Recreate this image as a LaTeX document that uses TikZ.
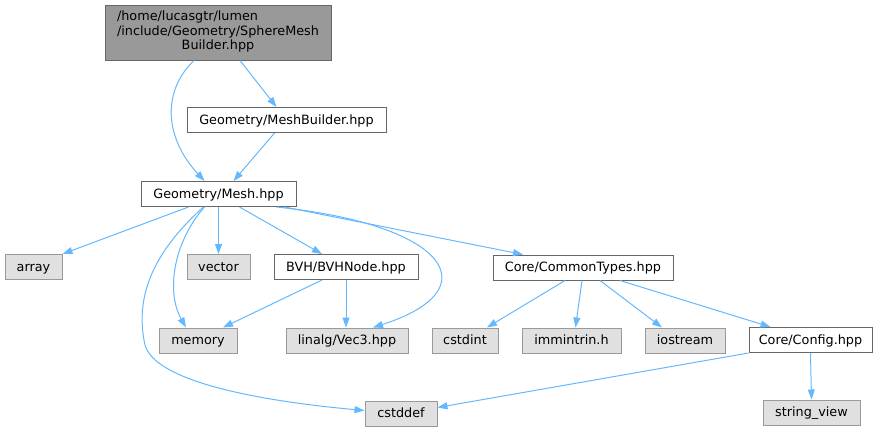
\documentclass[tikz,border=0pt]{standalone}
\usepackage{fontspec}
\setmainfont{DejaVu Sans}
\usepackage{tikz}
\usepackage{xcolor}
\usetikzlibrary{arrows.meta}
\definecolor{EdgeBlue}{HTML}{63B8FF}
\definecolor{SysFill}{HTML}{E0E0E0}
\definecolor{SysLine}{HTML}{999999}
\definecolor{HdrLine}{HTML}{666666}
\definecolor{CurFill}{HTML}{999999}

\begin{document}
\begin{tikzpicture}[x=1pt,y=-1pt,
    font=\fontsize{12.8}{14.5}\selectfont,
    box/.style={rectangle,minimum height=25pt,inner xsep=2pt,inner ysep=0pt,line width=1pt},
    hdr/.style={box,text height=10pt,text depth=1.5pt,draw=HdrLine,fill=white},
    sys/.style={box,text height=10pt,text depth=1.5pt,draw=SysLine,fill=SysFill},
    cur/.style={box,draw=HdrLine,fill=CurFill},
    inc/.style={EdgeBlue,line width=1pt,-{Triangle[length=10pt,width=7pt]}}]
  \useasboundingbox (0,0) rectangle (880,432);
  % files
  \node[cur,minimum width=226pt,minimum height=55pt] (sphere) at (218,32.5)
    {\begin{tabular}{@{}l@{}}/home/lucasgtr/lumen\\/include/Geometry/SphereMesh\\\multicolumn{1}{@{}c@{}}{Builder.hpp}\end{tabular}};
  \node[hdr,minimum width=199pt] (mb) at (286.5,120) {Geometry/MeshBuilder.hpp};
  \node[hdr,minimum width=155pt] (mesh) at (218.5,194) {Geometry/Mesh.hpp};
  \node[sys,minimum width=57pt] (array) at (33.5,267) {array};
  \node[sys,minimum width=63pt] (vector) at (218.5,267) {vector};
  \node[hdr,minimum width=144pt] (bvh) at (346,267) {BVH/BVHNode.hpp};
  \node[hdr,minimum width=180pt] (ct) at (583,267.5) {Core/CommonTypes.hpp};
  \node[sys,minimum width=78pt] (memory) at (198,340.5) {memory};
  \node[sys,minimum width=122pt] (vec3) at (347,340.5) {linalg/Vec3.hpp};
  \node[sys,minimum width=66pt] (cstdint) at (465,340.5) {cstdint};
  \node[sys,minimum width=99pt] (immintrin) at (571.5,340.5) {immintrin.h};
  \node[sys,minimum width=80pt] (iostream) at (685,340.5) {iostream};
  \node[hdr,minimum width=123pt] (config) at (810.5,340) {Core/Config.hpp};
  \node[sys,minimum width=72pt] (cstddef) at (401,413.5) {cstddef};
  \node[sys,minimum width=97pt] (sv) at (811.5,412.5) {string\_view};
  % includes
  \draw[inc] ([xshift=-24pt]sphere.south) .. controls (163,90) and (163,136) .. ([xshift=-14pt]mesh.north);
  \draw[inc] ([xshift=22pt]sphere.south) -- ([xshift=-10pt]mb.north);
  \draw[inc] ([xshift=-12pt]mb.south) -- ([xshift=15pt]mesh.north);
  \draw[inc] ([xshift=-30pt]mesh.south) -- (array.north east);
  \draw[inc] (mesh.south) -- (vector.north);
  \draw[inc] ([xshift=21pt]mesh.south) -- ([xshift=-24pt]bvh.north);
  \draw[inc] ([xshift=-14pt]mesh.south) .. controls (175,240) and (165,290) .. ([xshift=-12pt]memory.north);
  \draw[inc] ([xshift=-15pt]mesh.south) .. controls (150,255) and (135,300) .. (145,345)
    .. controls (155,380) and (250,400) .. ([yshift=3pt]cstddef.west);
  \draw[inc] ([xshift=58pt]mesh.south) .. controls (450,225) and (490,290) .. ([xshift=26pt]vec3.north);
  \draw[inc] ([xshift=66pt]mesh.south) -- ([xshift=-60pt]ct.north);
  \draw[inc] ([xshift=-24pt]bvh.south) -- ([xshift=25pt]memory.north);
  \draw[inc] (bvh.south) -- (bvh.south |- vec3.north);
  \draw[inc] ([xshift=-18pt]ct.south) -- ([xshift=22pt]cstdint.north);
  \draw[inc] ([xshift=-1pt]ct.south) -- ([xshift=4pt]immintrin.north);
  \draw[inc] ([xshift=17pt]ct.south) -- ([xshift=-23pt]iostream.north);
  \draw[inc] ([xshift=37pt]ct.south) -- ([xshift=-40pt]config.north);
  \draw[inc] (config.south west) -- ([yshift=6pt]cstddef.east);
  \draw[inc] (config.south) -- (sv.north);
\end{tikzpicture}
\end{document}
